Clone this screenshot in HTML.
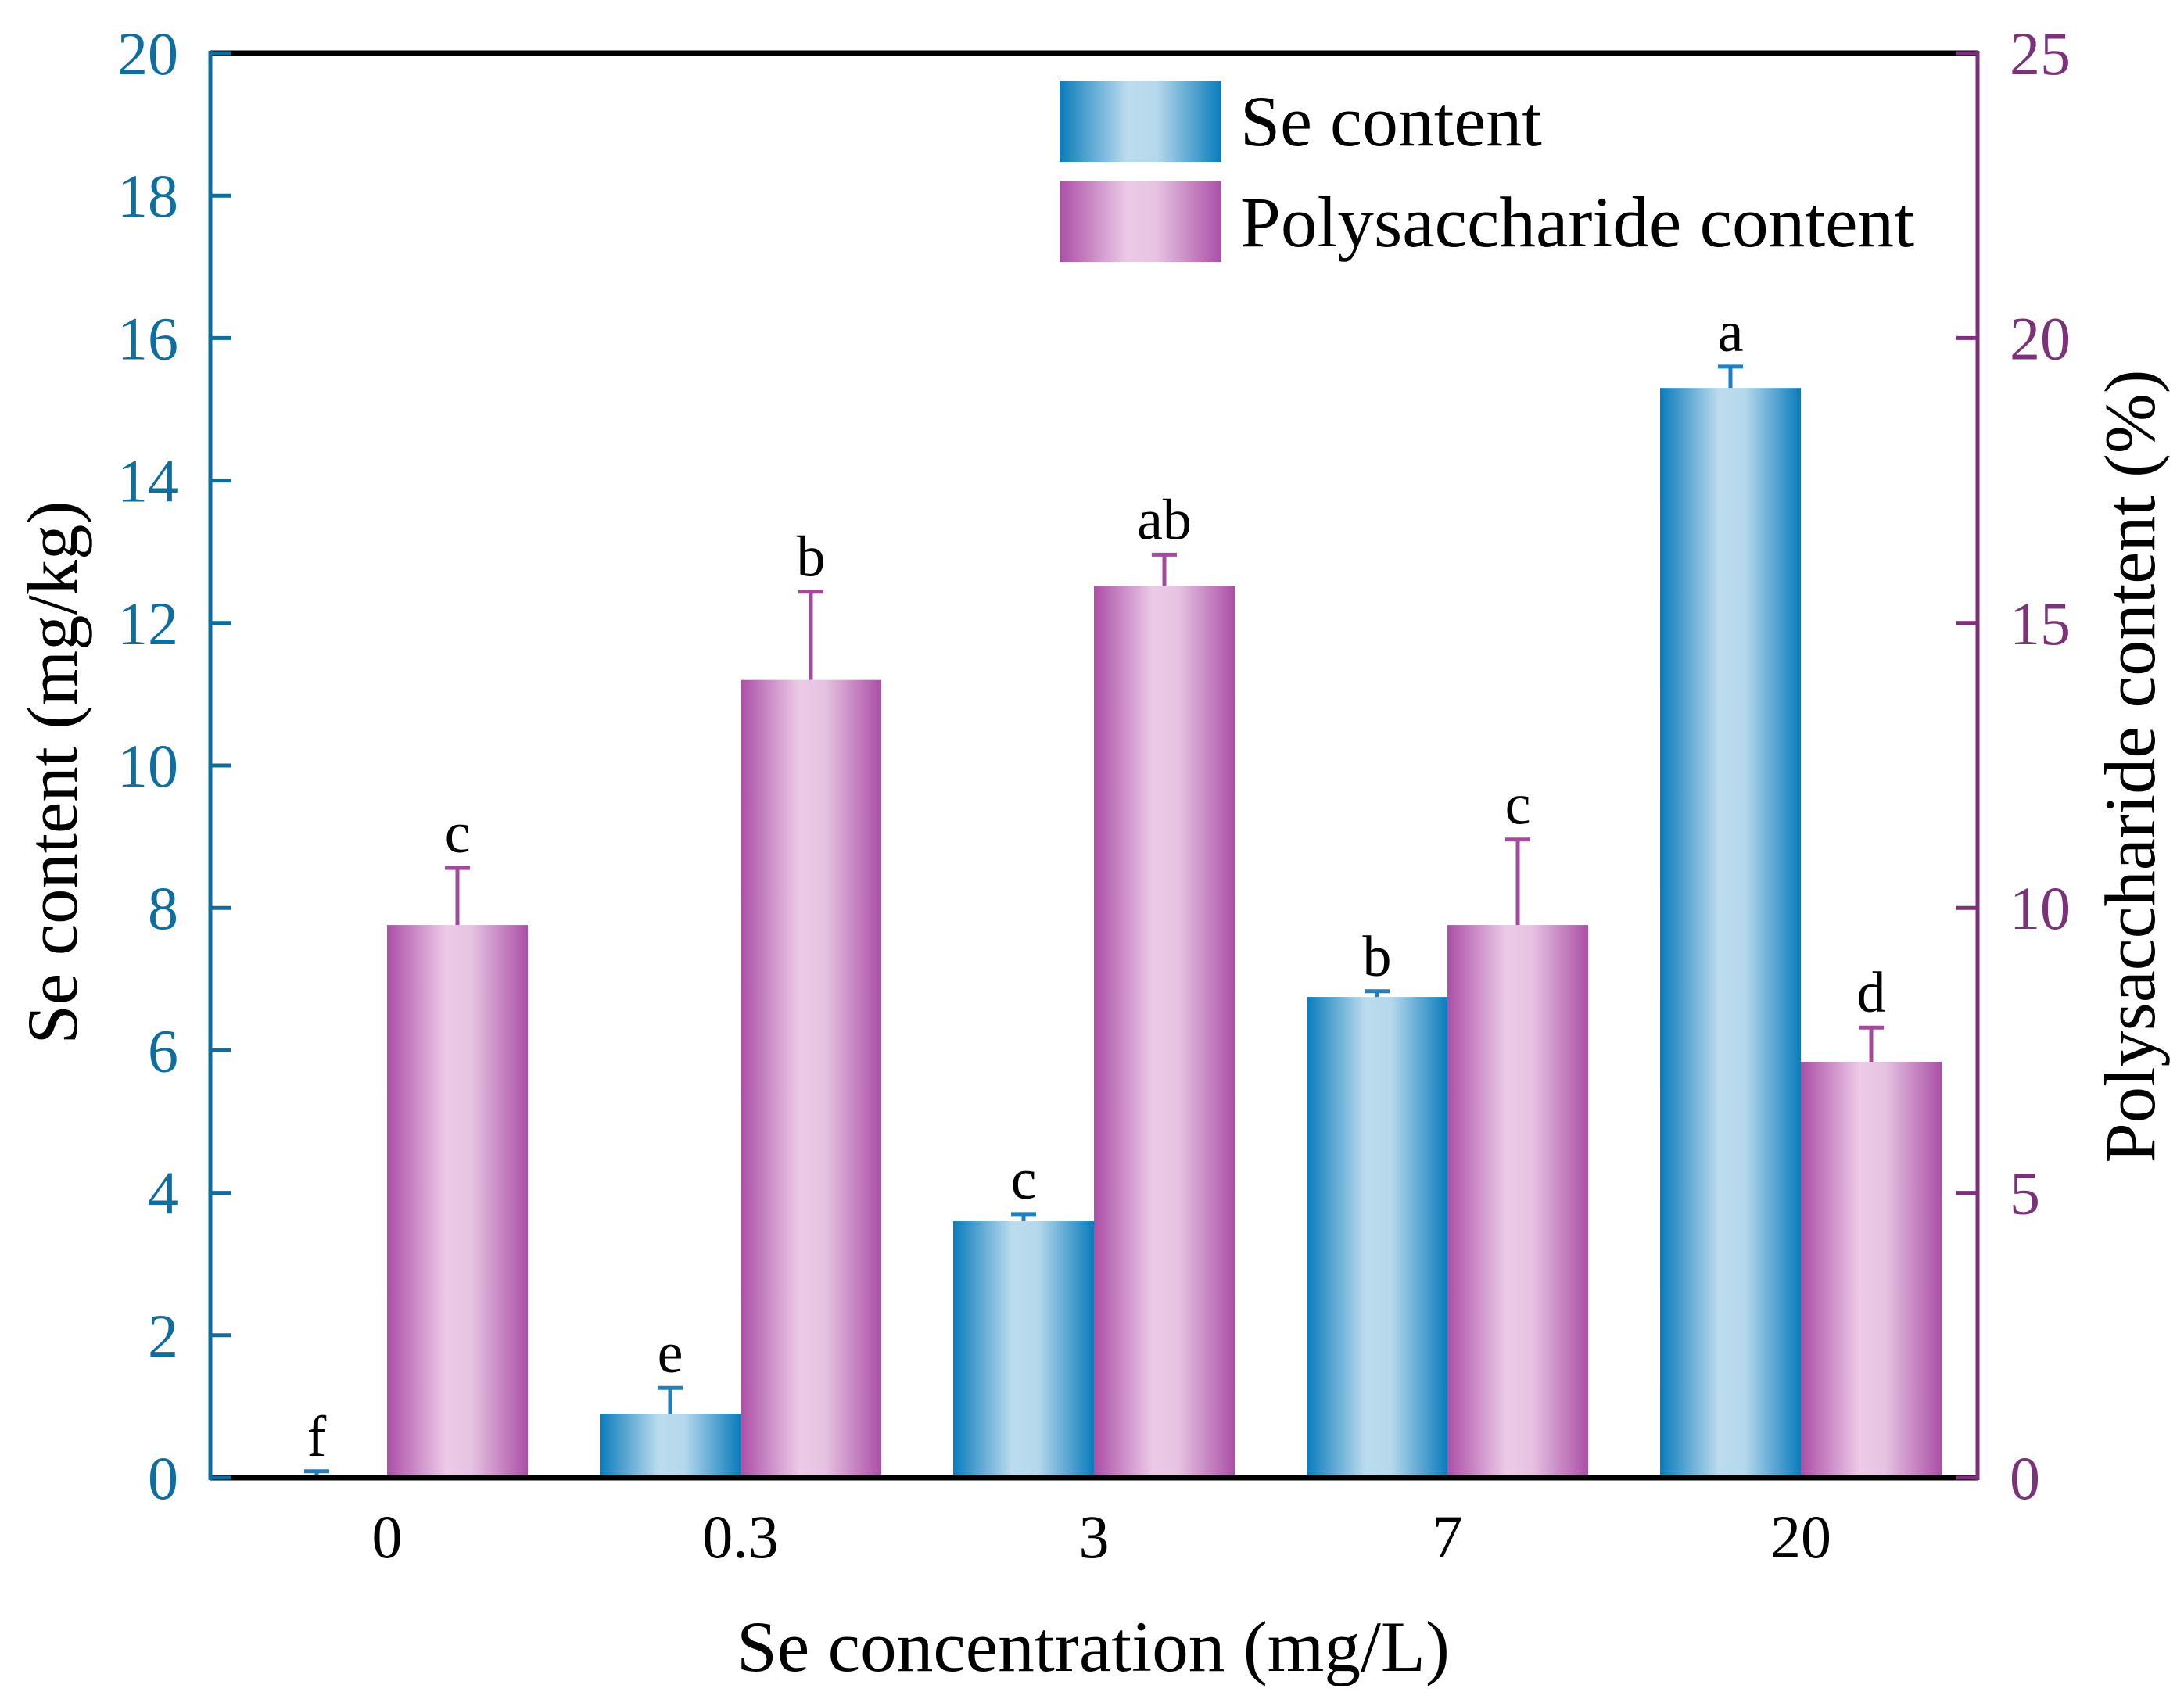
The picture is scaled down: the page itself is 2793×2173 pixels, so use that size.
<!DOCTYPE html>
<html><head><meta charset="utf-8"><style>
html,body{margin:0;padding:0;background:#fff}
svg{display:block;font-family:"Liberation Serif",serif}
</style></head><body>
<svg id="chart" width="2793" height="2173" viewBox="0 0 2793 2173" xmlns="http://www.w3.org/2000/svg">
<defs>
<linearGradient id="gBlue" x1="0" x2="1" y1="0" y2="0">
<stop offset="0" stop-color="#0a7cbb"/><stop offset="0.42" stop-color="#bcdcee"/><stop offset="0.6" stop-color="#b6d8ec"/><stop offset="1" stop-color="#0a7cbb"/>
</linearGradient>
<linearGradient id="gPink" x1="0" x2="1" y1="0" y2="0">
<stop offset="0" stop-color="#ab4fa7"/><stop offset="0.42" stop-color="#eccbe7"/><stop offset="0.6" stop-color="#e6c3e1"/><stop offset="1" stop-color="#ab4fa7"/>
</linearGradient>
</defs>
<g id="marks"></g>
<g id="axes"></g>
<g>
<rect x="1355" y="103" width="207" height="104" fill="url(#gBlue)"/>
<rect x="1355" y="231" width="207" height="104" fill="url(#gPink)"/>
<text x="1586" y="186" font-size="92" fill="#000">Se content</text>
<text x="1586" y="315" font-size="92" fill="#000" textLength="862" lengthAdjust="spacingAndGlyphs">Polysaccharide content</text>
</g>
<text x="1398" y="2137" font-size="92" text-anchor="middle" textLength="912" lengthAdjust="spacingAndGlyphs">Se concentration (mg/L)</text>
<text transform="translate(98,988) rotate(-90)" font-size="92" text-anchor="middle" textLength="695" lengthAdjust="spacingAndGlyphs">Se content (mg/kg)</text>
<text transform="translate(2755,980) rotate(-90)" font-size="92" text-anchor="middle" textLength="1015" lengthAdjust="spacingAndGlyphs">Polysaccharide content (%)</text>
</svg>
<script>
const categories = ["0","0.3","3","7","20"];
const seValues = [0.03, 0.9, 3.6, 6.75, 15.3];
const seErrors = [0.06, 0.36, 0.1, 0.08, 0.3];
const seLetters = ["f","e","c","b","a"];
const polyValues = [9.7, 14.0, 15.65, 9.7, 7.3];
const polyErrors = [1.0, 1.55, 0.55, 1.5, 0.6];
const polyLetters = ["c","b","ab","c","d"];
const leftTicks = [0,2,4,6,8,10,12,14,16,18,20];
const rightTicks = [0,5,10,15,20,25];

const NS = "http://www.w3.org/2000/svg";
const PL = 269, PR = 2529, PT = 68, PB = 1890;
const barW = 180;
const BLUE = "#0e6d9c", PURP = "#7e2f7c";
function xCenter(i){ return PL + (PR - PL) / categories.length * (i + 0.5); }
function yLeft(v){ return PB - (PB - PT) * v / 20; }
function yRight(v){ return PB - (PB - PT) * v / 25; }
function mk(tag, attrs, parent){
  const e = document.createElementNS(NS, tag);
  for (const k in attrs) e.setAttribute(k, attrs[k]);
  parent.appendChild(e); return e;
}
const marksG = document.getElementById('marks');
const axesG = document.getElementById('axes');

categories.forEach((c, i) => {
  const cx = xCenter(i);
  const ys = yLeft(seValues[i]);
  const b1 = mk('rect', {x: cx - barW, y: ys, width: barW, height: PB - ys, fill: 'url(#gBlue)'}, marksG);
  
  
  const ye1 = yLeft(seValues[i] + seErrors[i]);
  const e1 = mk('path', {d: `M${cx-barW/2},${ys}V${ye1}M${cx-barW/2-16},${ye1}H${cx-barW/2+16}`, stroke: '#1f80bd', 'stroke-width': 5, fill: 'none'}, marksG);
  
  
  const t1 = mk('text', {x: cx - barW/2, y: ye1 - 20, 'font-size': 74, 'text-anchor': 'middle'}, marksG);
  t1.textContent = seLetters[i];
  
  
  const yp = yRight(polyValues[i]);
  const b2 = mk('rect', {x: cx, y: yp, width: barW, height: PB - yp, fill: 'url(#gPink)'}, marksG);
  
  
  const ye2 = yRight(polyValues[i] + polyErrors[i]);
  const e2 = mk('path', {d: `M${cx+barW/2},${yp}V${ye2}M${cx+barW/2-16},${ye2}H${cx+barW/2+16}`, stroke: '#a24b9d', 'stroke-width': 5, fill: 'none'}, marksG);
  
  
  const t2 = mk('text', {x: cx + barW/2, y: ye2 - 20, 'font-size': 74, 'text-anchor': 'middle'}, marksG);
  t2.textContent = polyLetters[i];
  
  
  const xl = mk('text', {x: cx, y: 1992, 'font-size': 78, 'text-anchor': 'middle'}, axesG);
  xl.textContent = c;
  
  
});

const frameTop = mk('line', {x1: PL, y1: PT, x2: PR, y2: PT, stroke: '#000', 'stroke-width': 7}, axesG);


const frameBot = mk('line', {x1: PL, y1: PB, x2: PR, y2: PB, stroke: '#000', 'stroke-width': 7}, axesG);


const leftAxis = mk('line', {x1: PL, y1: PT - 3, x2: PL, y2: PB + 3, stroke: BLUE, 'stroke-width': 5}, axesG);


const rightAxis = mk('line', {x1: PR, y1: PT - 3, x2: PR, y2: PB + 3, stroke: PURP, 'stroke-width': 5}, axesG);



leftTicks.forEach(v => {
  const y = yLeft(v);
  const tk = mk('line', {x1: PL, y1: y, x2: PL + 27, y2: y, stroke: BLUE, 'stroke-width': 5}, axesG);
  
  
  const tl = mk('text', {x: 228, y: y + 27, 'font-size': 78, 'text-anchor': 'end', fill: '#106e9e'}, axesG);
  tl.textContent = v;
  
  
});
rightTicks.forEach(v => {
  const y = yRight(v);
  const tk = mk('line', {x1: PR - 27, y1: y, x2: PR, y2: y, stroke: PURP, 'stroke-width': 5}, axesG);
  
  
  const tl = mk('text', {x: 2570, y: y + 27, 'font-size': 78, 'text-anchor': 'start', fill: '#7a3378'}, axesG);
  tl.textContent = v;
  
  
});
</script>
</body></html>
